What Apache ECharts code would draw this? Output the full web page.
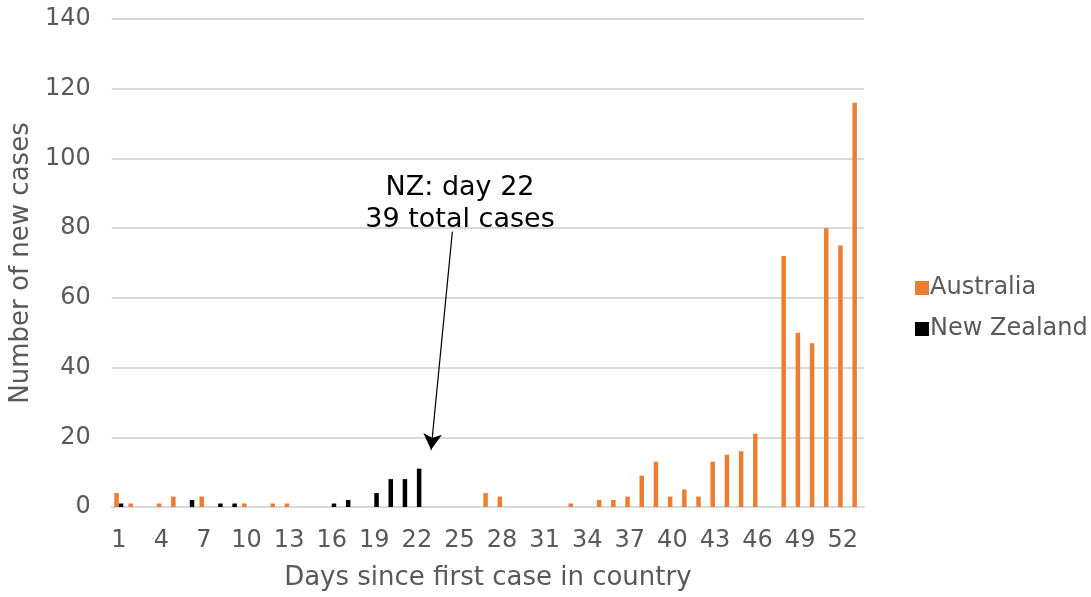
<!DOCTYPE html>
<html>
<head>
<meta charset="utf-8">
<script src="https://cdn.jsdelivr.net/npm/echarts@6/dist/echarts.min.js"></script>
<style>
  html, body { margin: 0; padding: 0; background: #fff; }
  #chart { width: 1091px; height: 597px; }
</style>
</head>
<body>
<div id="chart"></div>
<script>
// day 1..53
const days = Array.from({ length: 53 }, (_, i) => String(i + 1));

const australia = [
  4, 1, 0, 1, 3, 0, 3, 0, 0, 1,
  0, 1, 1, 0, 0, 0, 0, 0, 0, 0,
  0, 0, 0, 0, 0, 0, 4, 3, 0, 0,
  0, 0, 1, 0, 2, 2, 3, 9, 13, 3,
  5, 3, 13, 15, 16, 21, 0, 72, 50, 47,
  80, 75, 116
];

const newZealand = [
  1, 0, 0, 0, 0, 2, 0, 1, 1, 0,
  0, 0, 0, 0, 0, 1, 2, 0, 4, 8,
  8, 11
];

// annotation arrow: [day, cases] start -> end (on hidden value axis)
const arrowFrom = [24.5, 79];
const arrowTo = [23, 16.4];
const noteText = 'NZ: day 22\n39 total cases';

const gray = '#595959';
const font = 'DejaVu Sans';

const chart = echarts.init(document.getElementById('chart'));

const option = {
  animation: false,
  textStyle: { fontFamily: font },
  grid: { left: 111, right: 227, top: 19, bottom: 90 },
  legend: {
    data: ['Australia', 'New Zealand'],
    orient: 'vertical',
    left: 910,
    top: 271,
    itemWidth: 14,
    itemHeight: 14,
    itemGap: 17,
    icon: 'rect',
    textStyle: { fontSize: 24, color: gray, fontFamily: font, padding: [0, 0, 0, -4] }
  },
  xAxis: [{
    type: 'category',
    data: days,
    name: 'Days since first case in country',
    nameLocation: 'middle',
    nameGap: 58,
    nameTextStyle: { fontSize: 26, color: gray },
    axisLine: { lineStyle: { color: '#d9d9d9', width: 2 } },
    axisTick: { show: false },
    axisLabel: { interval: 2, fontSize: 24, color: gray, margin: 22 }
  }, {
    type: 'value',
    min: 0.5,
    max: 53.5,
    show: false
  }],
  yAxis: {
    type: 'value',
    min: 0,
    max: 140,
    interval: 20,
    name: 'Number of new cases',
    nameLocation: 'middle',
    nameGap: 76,
    nameTextStyle: { fontSize: 26, color: gray },
    axisLine: { show: false },
    axisTick: { show: false },
    axisLabel: { fontSize: 24, color: gray, margin: 21 },
    splitLine: { lineStyle: { color: '#d9d9d9', width: 2 } }
  },
  series: [{
    name: 'Australia',
    type: 'bar',
    data: australia,
    barWidth: 4.5,
    barGap: '0%',
    itemStyle: { color: '#ED7D31' }
  }, {
    name: 'New Zealand',
    type: 'bar',
    data: newZealand,
    barWidth: 4.5,
    itemStyle: { color: '#000000' }
  }, {
    name: 'note',
    type: 'line',
    xAxisIndex: 1,
    data: [],
    markLine: {
      silent: true,
      symbol: ['none', 'arrow'],
      symbolSize: [14, 16],
      label: { show: false },
      lineStyle: { color: '#000', width: 1.2, type: 'solid' },
      data: [[{ coord: arrowFrom }, { coord: arrowTo }]]
    }
  }],
  graphic: [{
    type: 'text',
    x: 460,
    y: 172,
    style: {
      text: noteText,
      fontSize: 27,
      fontFamily: font,
      fill: '#000',
      textAlign: 'center',
      lineHeight: 32
    }
  }]
};

chart.setOption(option);
</script>
</body>
</html>
